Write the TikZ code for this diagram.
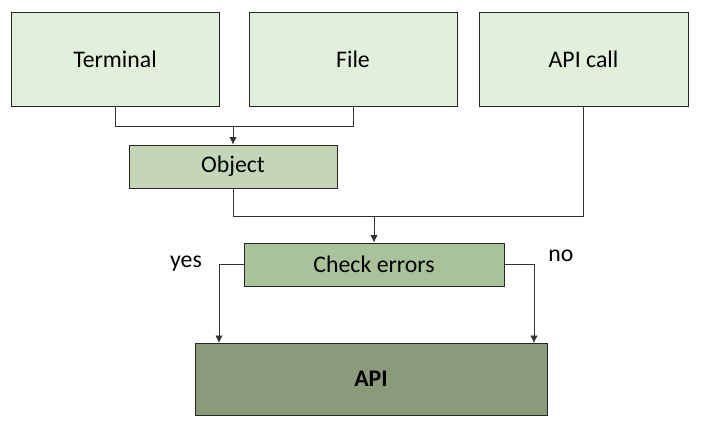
\documentclass[tikz,border=0pt]{standalone}
\usepackage{fontspec}
\setmainfont{Carlito}
\usetikzlibrary{arrows.meta}
\definecolor{srcgreen}{HTML}{E2EFDA}
\definecolor{objgreen}{HTML}{C5D6B8}
\definecolor{chkgreen}{HTML}{A9C29A}
\definecolor{apigreen}{HTML}{8A9A7A}
\tikzset{
  box/.style={draw=black!85, line width=0.9pt, rectangle, inner sep=0pt,
    font=\fontsize{23.8}{28}\selectfont},
  link/.style={draw=black!80, line width=0.9pt},
  arr/.style={link, -{Latex[length=7.5pt,width=7.5pt]}}
}
\begin{document}
\begin{tikzpicture}[x=1pt,y=-1pt]
        \useasboundingbox (0,0) rectangle (702,424);
        \node[box, fill=srcgreen, minimum width=208pt, minimum height=94pt](term) at (115,59) {Terminal};
        \node[box, fill=srcgreen, minimum width=208pt, minimum height=94pt](file) at (353,59) {File};
        \node[box, fill=srcgreen, minimum width=209pt, minimum height=94pt](call) at (583.5,59) {API call};
        \node[box, fill=objgreen, minimum width=208pt, minimum height=43pt](obj) at (233,166.5) {Object};
        \node[box, fill=chkgreen, minimum width=260pt, minimum height=43pt](check) at (374,264.5) {Check errors};
        \node[box, fill=apigreen, minimum width=352pt, minimum height=72pt](api) at (371,379) {\textbf{API}};
        \node[font=\fontsize{23.8}{28}\selectfont](yes) at (186,264) {yes};
        \node[font=\fontsize{23.8}{28}\selectfont](no) at (561,256) {no};
        \coordinate(j1) at (233,126);
        \coordinate(j2) at (374,216);
        \coordinate(ya) at (219,343);
        \coordinate(na) at (534,343);
        \draw[link](term)|-(j1);
        \draw[link](file)|-(j1);
        \draw[arr](j1)--(obj);
        \draw[link](obj)|-(j2);
        \draw[link](call)|-(j2);
        \draw[arr](j2)--(check);
        \draw[arr](check.west)-|(ya);
        \draw[arr](check.east)-|(na);
        \end{tikzpicture}
\end{document}
